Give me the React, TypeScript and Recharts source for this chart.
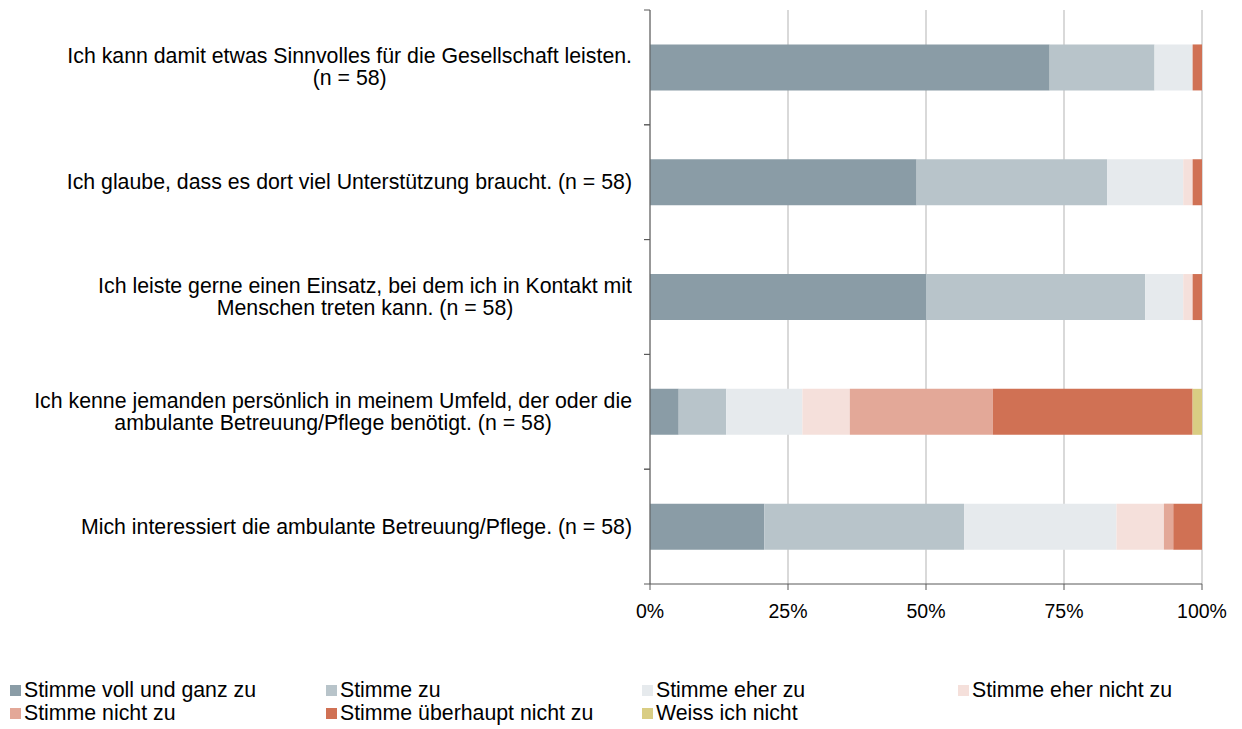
import { BarChart, Bar, XAxis, YAxis, CartesianGrid } from 'recharts';

const statements = [
  ['Ich kann damit etwas Sinnvolles für die Gesellschaft leisten.', '(n = 58)'],
  ['Ich glaube, dass es dort viel Unterstützung braucht. (n = 58)'],
  ['Ich leiste gerne einen Einsatz, bei dem ich in Kontakt mit', 'Menschen treten kann. (n = 58)'],
  ['Ich kenne jemanden persönlich in meinem Umfeld, der oder die', 'ambulante Betreuung/Pflege benötigt. (n = 58)'],
  ['Mich interessiert die ambulante Betreuung/Pflege. (n = 58)'],
];

const answers = [
  'Stimme voll und ganz zu',
  'Stimme zu',
  'Stimme eher zu',
  'Stimme eher nicht zu',
  'Stimme nicht zu',
  'Stimme überhaupt nicht zu',
  'Weiss ich nicht',
];

const colors = ['#8a9ca6', '#b8c4ca', '#e6eaed', '#f5e0db', '#e3a898', '#d07154', '#d9cd83'];

// shares in percent, one array per answer, in statement order
const vollUndGanz = [72.4, 48.3, 50.0, 5.2, 20.7];
const zu = [19.0, 34.5, 39.7, 8.6, 36.2];
const eherZu = [6.9, 13.8, 6.9, 13.8, 27.6];
const eherNicht = [0, 1.7, 1.7, 8.6, 8.6];
const nicht = [0, 0, 0, 25.9, 1.7];
const ueberhauptNicht = [1.7, 1.7, 1.7, 36.2, 5.2];
const weissNicht = [0, 0, 0, 1.7, 0];

const seriesValues = [vollUndGanz, zu, eherZu, eherNicht, nicht, ueberhauptNicht, weissNicht];

const xTicks = [0, 25, 50, 75, 100];

const data = statements.map((lines, i) => {
  const row: Record<string, any> = { label: lines.join(' '), idx: i };
  answers.forEach((a, k) => {
    row[a] = seriesValues[k][i];
  });
  return row;
});

const font = '"Liberation Sans", Arial, sans-serif';

const StatementTick = (props: any) => {
  const { x, y, payload } = props;
  const half = payload?.offset ?? 57;
  const lines = statements[payload.index] ?? [payload.value];
  return (
    <g>
      <line x1={x - 6} x2={x} y1={y - half} y2={y - half} stroke="#595959" />
      <line x1={x - 6} x2={x} y1={y + half} y2={y + half} stroke="#595959" />
      <foreignObject x={x - 650} y={y - 40} width={632} height={80}>
        <div
          style={{
            display: 'flex',
            justifyContent: 'flex-end',
            alignItems: 'center',
            height: '100%',
            fontFamily: font,
            fontSize: 21.3,
            lineHeight: '22px',
            color: '#000',
          }}
        >
          <div style={{ textAlign: 'center', whiteSpace: 'nowrap' }}>
            {lines.map((l, j) => (
              <div key={j}>{l}</div>
            ))}
          </div>
        </div>
      </foreignObject>
    </g>
  );
};

export default function App() {
  return (
    <div style={{ position: 'absolute', left: 0, top: 0, width: 1242, height: 729, background: '#fff', overflow: 'hidden' }}>
      <BarChart
        width={1242}
        height={640}
        data={data}
        layout="vertical"
        barCategoryGap="30%"
        margin={{ top: 10, right: 40, bottom: 26, left: 0 }}
      >
        <CartesianGrid horizontal={false} stroke="#d9d9d9" strokeWidth={2} />
        <XAxis
          type="number"
          domain={[0, 100]}
          ticks={xTicks}
          tickFormatter={(v) => `${v}%`}
          axisLine={{ stroke: '#595959' }}
          tickLine={{ stroke: '#595959' }}
          tickSize={6}
          tickMargin={14}
          height={30}
          tick={{ fill: '#000', fontSize: 19.5, fontFamily: font }}
          interval={0}
        />
        <YAxis
          type="category"
          dataKey="label"
          width={650}
          axisLine={{ stroke: '#595959' }}
          tickLine={false}
          tickSize={0}
          tickMargin={0}
          interval={0}
          tick={<StatementTick />}
        />
        {answers.map((a, k) => (
          <Bar key={a} dataKey={a} stackId="s" fill={colors[k]} isAnimationActive={false} />
        ))}
      </BarChart>
      <div
        style={{
          position: 'absolute',
          left: 10,
          top: 679,
          width: 1300,
          display: 'flex',
          flexWrap: 'wrap',
          fontFamily: font,
          fontSize: 21.3,
          lineHeight: '23px',
          color: '#000',
        }}
      >
        {answers.map((a, k) => (
          <div key={a} style={{ width: 316, display: 'flex', alignItems: 'center', whiteSpace: 'nowrap' }}>
            <span style={{ width: 11, height: 11, background: colors[k], marginRight: 3, display: 'inline-block', flexShrink: 0 }} />
            <span>{a}</span>
          </div>
        ))}
      </div>
    </div>
  );
}
